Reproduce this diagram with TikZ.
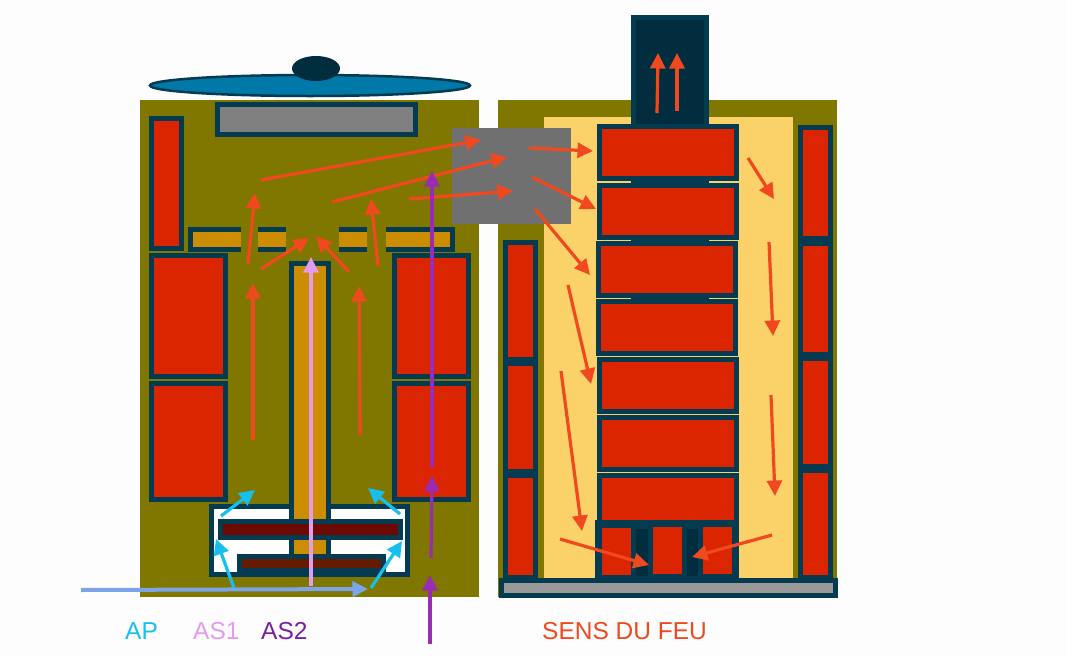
\documentclass[tikz,border=0pt]{standalone}
\usepackage{fontspec}
\setmainfont{Liberation Sans}
\usetikzlibrary{arrows.meta}
\definecolor{paper}{HTML}{FDFDFD}
\definecolor{olive}{HTML}{7F7700}
\definecolor{flue}{HTML}{053B50}
\definecolor{soot}{HTML}{022D3F}
\definecolor{fire}{HTML}{DB2500}
\definecolor{ochre}{HTML}{CC8E00}
\definecolor{sand}{HTML}{FBD26A}
\definecolor{ash}{HTML}{808080}
\definecolor{lightash}{HTML}{999999}
\definecolor{midash}{HTML}{707070}
\definecolor{lid}{HTML}{0079A8}
\definecolor{plate}{HTML}{6B0A00}
\definecolor{lowplate}{HTML}{661A00}
\definecolor{flame}{HTML}{F0491F}
\definecolor{primary}{HTML}{16BFEE}
\definecolor{secondone}{HTML}{E39BEF}
\definecolor{secondtwo}{HTML}{9A2BB5}
\definecolor{secondtext}{HTML}{7B1FA2}
\definecolor{feed}{HTML}{7BA5E8}

\begin{document}
\begin{tikzpicture}[
    x=1pt,
    y=-1pt,
    flow/.style={-{Triangle[length=15.5pt,width=15pt]}, line width=3.2pt},
    fireflow/.style={flow, draw=flame},
    primflow/.style={flow, draw=primary},
    legend/.style={anchor=base west, inner sep=0pt, font=\fontsize{24.5}{28}\selectfont}
]
\useasboundingbox (0,0) rectangle (1067,656);
\fill[paper] (0,0) rectangle (1067,656);

% Two olive bodies and the sand-filled return space.
\fill[olive] (140,100) rectangle (479,597);
\fill[olive] (498,100) rectangle (837,597);
\fill[sand] (544,117) rectangle (793,578);

% Lid with its knob.
\draw[draw=flue, fill=lid, line width=2.5pt] (310,85.5) ellipse (160 and 10.5);
\fill[soot] (316,68.5) ellipse (24 and 12.5);

% Top plate of the left body.
\fill[flue] (215,102) rectangle (418,137);
\fill[ash] (220,107) rectangle (413,132);

% Red bricks of the left body.
\foreach \a/\b/\c/\d in {149/116/184/251, 149/253/228/379, 149/381/228/502,
    392/253/471/379, 392/381/471/502} {
    \fill[flue] (\a,\b) rectangle (\c,\d);
    \fill[fire] (\a+5,\b+5) rectangle (\c-5,\d-5);
}

% Slotted ochre shelf.
\foreach \a/\c in {188/241, 258/286, 339/367, 386/455}
    \fill[flue] (\a,227) rectangle (\c,252);
\foreach \a/\c in {193/241, 258/286, 339/367, 386/450}
    \fill[ochre] (\a,232) rectangle (\c,247);

% Burner box with central column and the two plates.
\fill[flue] (209,504) rectangle (410,577);
\fill[white] (214,509) rectangle (405,572);
\fill[flue] (289,261) rectangle (331,554);
\fill[ochre] (294,266) rectangle (326,554);
\fill[flue] (218,519) rectangle (403,540);
\fill[plate] (223,524) rectangle (398,535);
\fill[flue] (237,554) rectangle (386,577);
\fill[lowplate] (242,559) rectangle (381,568);

% Chimney and the flue behind the stack.
\fill[flue] (631,15) rectangle (709,130);
\fill[soot] (636,20) rectangle (704,124);
\fill[flue] (631,176) rectangle (709,300);

% Stack of firebrick rows.
\foreach \a/\b/\c/\d in {597/124/739/181, 597/183/739/240, 596/241/738/298,
    596/299/738/356, 597/357/739/414, 597/415/739/472, 597/473/739/530} {
    \fill[flue] (\a,\b) rectangle (\c,\d);
    \fill[fire] (\a+5,\b+5) rectangle (\c-5,\d-5);
}

% Hearth cells.
\fill[flue] (595,520) rectangle (739,578);
\fill[fire] (602,478) rectangle (734,520);
\fill[fire] (602,528) rectangle (631,575);
\fill[soot] (636,529) rectangle (648,576);
\fill[fire] (653,527) rectangle (682,574);
\fill[soot] (687,529) rectangle (698,576);
\fill[fire] (703,527) rectangle (732,574);

% Side columns of the right body.
\fill[flue] (503,240) rectangle (538,578);
\foreach \b/\d in {245/357, 366/469, 478/575}
    \fill[fire] (508,\b) rectangle (533,\d);
\fill[flue] (798,125) rectangle (833,578);
\foreach \b/\d in {130/236, 246/352, 361/464, 473/575}
    \fill[fire] (803,\b) rectangle (828,\d);

% Base slab.
\fill[flue] (499,578) rectangle (838,598);
\fill[lightash] (504,583) rectangle (833,593);

% Grey junction between the bodies.
\fill[midash] (452,128) rectangle (571,224);

% Fire path, left body.
\foreach \a/\b/\c/\d in {253/440/253/283, 360/435/359/286, 248/264/255/193,
    261/269/309/238, 349/272/316/236, 378/266/371/199, 261/180/481/140,
    332/202/507/157, 409/199/513/191}
    \draw[fireflow] (\a,\b) -- (\c,\d);

% Fire path, right body.
\foreach \a/\b/\c/\d in {529/148/593/151, 532/177/596/209, 535/209/590/275,
    657/113/658/53, 677/111/677/53, 748/158/774/199, 769/242/773/336,
    771/395/775/496, 568/285/591/384, 561/371/582/531, 560/539/649/565,
    772/535/692/557}
    \draw[fireflow] (\a,\b) -- (\c,\d);

% Air inlets.
\draw[flow, draw=feed, line width=4pt] (81,590) -- (368,589);
\foreach \a/\b/\c/\d in {221/516/255/490, 400/514/368/488, 234/588/216/539, 371/588/402/541}
    \draw[primflow] (\a,\b) -- (\c,\d);
\draw[flow, draw=secondone] (311,586) -- (311,257);
\foreach \a/\b/\c/\d in {432/467/432/171, 431/558/432/476, 430/644/430/575}
    \draw[flow, draw=secondtwo] (\a,\b) -- (\c,\d);

% Legend.
\node[legend, text=primary] (ap) at (125,639) {AP};
\node[legend, text=secondone] (asone) at (193,639) {AS1};
\node[legend, text=secondtext] (astwo) at (261,639) {AS2};
\node[legend, text=flame] (sens) at (542,639) {SENS DU FEU};

\end{tikzpicture}
\end{document}
